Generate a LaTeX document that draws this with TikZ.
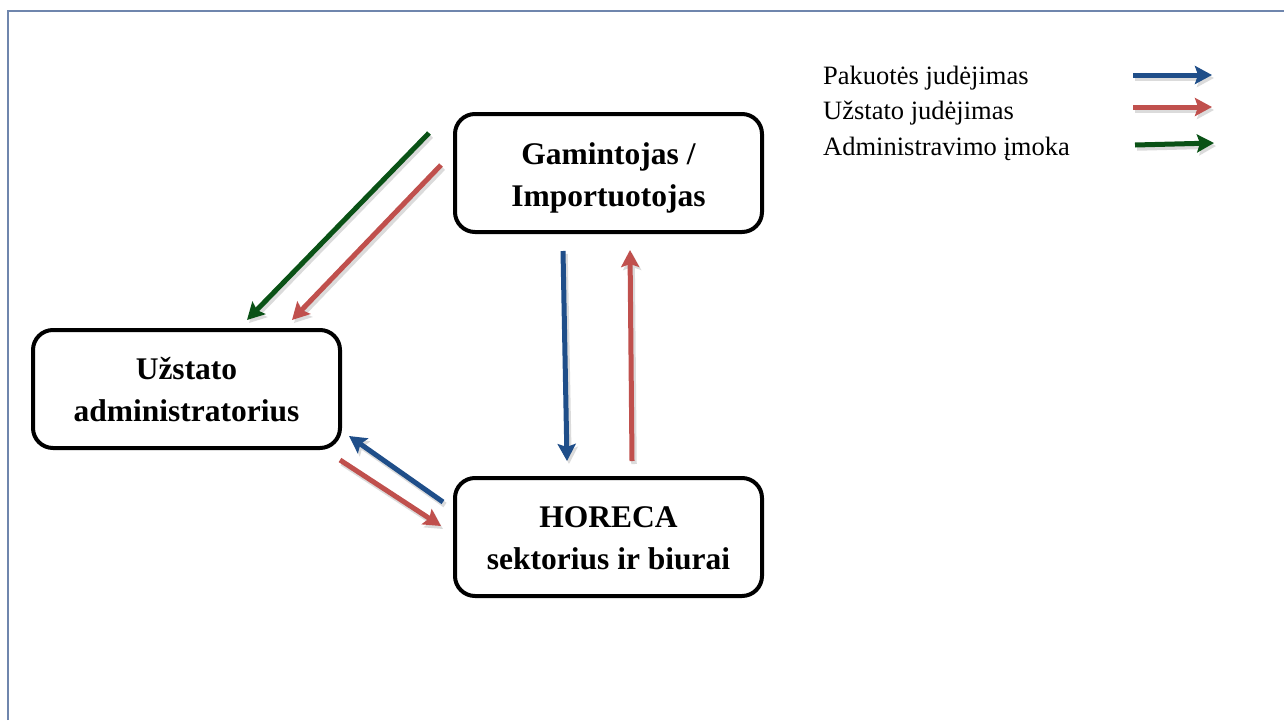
\documentclass[tikz,border=0pt]{standalone}
\usepackage{fontspec}
\setmainfont{Liberation Serif}
\usetikzlibrary{arrows.meta,shadows}
\definecolor{pblue}{RGB}{31,78,137}
\definecolor{pred}{RGB}{192,80,77}
\definecolor{pgreen}{RGB}{10,82,22}
\definecolor{frame}{RGB}{111,134,173}
\tikzset{
  box/.style={draw=black,line width=4pt,rounded corners=20pt,fill=white,minimum width=307pt,minimum height=118pt},
  boxtext/.style={align=center,font=\fontsize{31.5}{42}\selectfont\bfseries},
  flow/.style={line width=5pt,-{Stealth[length=17pt,width=18pt,inset=3pt]},
    preaction={draw=black!14,line width=5.5pt,transform canvas={xshift=2pt,yshift=-3pt},-{Stealth[length=17pt,width=18pt,inset=3pt]}}},
  legtext/.style={anchor=base west,font=\fontsize{26.5}{30}\selectfont,inner sep=0pt},
}
\begin{document}
\begin{tikzpicture}[x=1pt,y=-1pt]
\useasboundingbox (0,0) rectangle (1284,720);
\draw[frame,line width=2pt] (7.5,720) -- (7.5,11) -- (1284,11);
\node[box] (g) at (608.5,173) {};
\node[boxtext] (gt) at ([yshift=-5pt]g.center) {Gamintojas /\\Importuotojas};
\node[box] (u) at (186.5,389) {};
\node[boxtext] (ut) at ([yshift=-1pt]u.center) {Užstato\\administratorius};
\node[box] (h) at (608.5,537) {};
\node[boxtext] (ht) at ([yshift=-1pt]h.center) {HORECA\\sektorius ir biurai};
\coordinate (a1s) at (429,133); \coordinate (a1e) at (247,320);
\coordinate (a2s) at (441,165); \coordinate (a2e) at (292,320);
\coordinate (a3s) at (563,251); \coordinate (a3e) at (567,461);
\coordinate (a4s) at (632,461); \coordinate (a4e) at (630,250);
\coordinate (a5s) at (443,502); \coordinate (a5e) at (349,436);
\coordinate (a6s) at (340,460); \coordinate (a6e) at (441,526);
\draw[flow,pgreen] (a1s) -- (a1e);
\draw[flow,pred] (a2s) -- (a2e);
\draw[flow,pblue] (a3s) -- (a3e);
\draw[flow,pred] (a4s) -- (a4e);
\draw[flow,pblue] (a5s) -- (a5e);
\draw[flow,pred] (a6s) -- (a6e);
\node[legtext] (l1) at (823,84) {Pakuotės judėjimas};
\node[legtext] (l2) at (823,119.5) {Užstato judėjimas};
\node[legtext] (l3) at (823,155) {Administravimo įmoka};
\coordinate (b1s) at (1133,75); \coordinate (b1e) at (1212,75);
\coordinate (b2s) at (1133,107); \coordinate (b2e) at (1212,107);
\coordinate (b3s) at (1135,145); \coordinate (b3e) at (1214,143);
\draw[flow,pblue] (b1s) -- (b1e);
\draw[flow,pred] (b2s) -- (b2e);
\draw[flow,pgreen] (b3s) -- (b3e);
\end{tikzpicture}
\end{document}
